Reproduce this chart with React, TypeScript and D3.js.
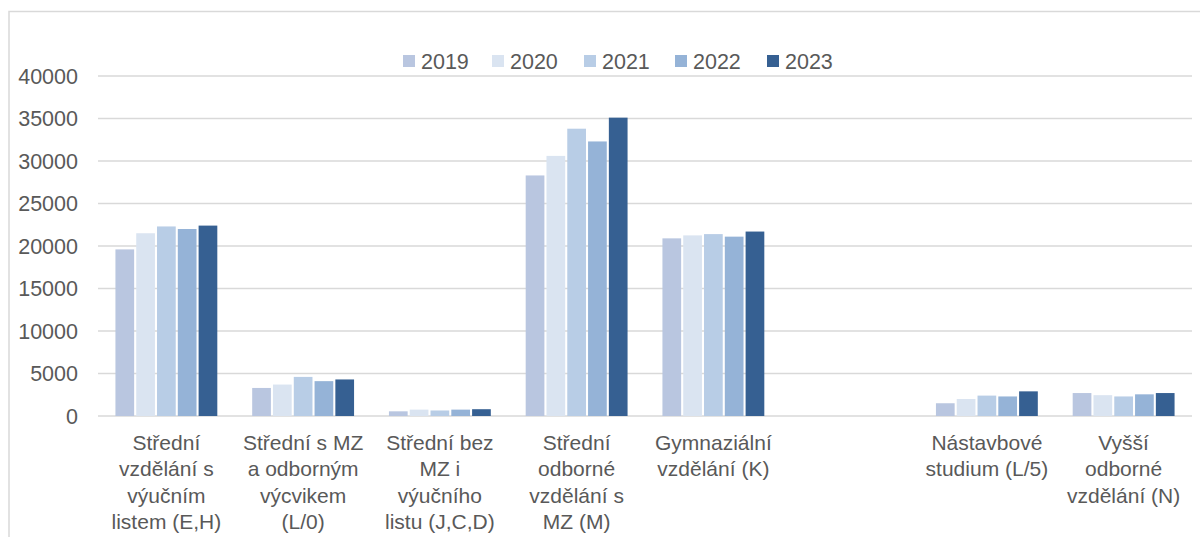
import React from "react";
import * as d3 from "d3";

const categories: string[][] = [
  ["Střední", "vzdělání s", "výučním", "listem (E,H)"],
  ["Střední s MZ", "a odborným", "výcvikem", "(L/0)"],
  ["Střední bez", "MZ i", "výučního", "listu (J,C,D)"],
  ["Střední", "odborné", "vzdělání s", "MZ (M)"],
  ["Gymnaziální", "vzdělání (K)"],
  [],
  ["Nástavbové", "studium (L/5)"],
  ["Vyšší", "odborné", "vzdělání (N)"],
];

const years = ["2019", "2020", "2021", "2022", "2023"];

const v2019 = [19600, 3300, 550, 28300, 20900, null, 1500, 2700];
const v2020 = [21500, 3700, 750, 30600, 21250, null, 2000, 2450];
const v2021 = [22300, 4600, 650, 33800, 21400, null, 2400, 2300];
const v2022 = [22000, 4100, 750, 32300, 21100, null, 2300, 2550];
const v2023 = [22400, 4300, 800, 35100, 21700, null, 2900, 2700];

const seriesValues: (number | null)[][] = [v2019, v2020, v2021, v2022, v2023];
const colors = ["#B9C6E0", "#DAE4F1", "#B8CDE6", "#95B3D7", "#366092"];

const yTicks = [0, 5000, 10000, 15000, 20000, 25000, 30000, 35000, 40000];

const W = 1200;
const H = 537;
const left = 98;
const right = 1192;
const top = 76;
const bottom = 416;
const font = "Liberation Sans, Arial, sans-serif";
const textColor = "#595959";
const gridColor = "#D9D9D9";

export default function App() {
  const x = d3
    .scaleBand<number>()
    .domain(categories.map((_, i) => i))
    .range([left, right])
    .padding(0);
  const groupW = x.bandwidth() * 0.745;
  const inner = d3
    .scaleBand<number>()
    .domain(years.map((_, i) => i))
    .range([-groupW / 2, groupW / 2])
    .paddingInner(0.1)
    .paddingOuter(0);
  const y = d3.scaleLinear().domain([0, 40000]).range([bottom, top]);

  const legendX = [403, 492, 584, 675, 767];

  return (
    <svg
      width={W}
      height={H}
      style={{ position: "absolute", left: 0, top: 0, background: "#fff" }}
      fontFamily={font}
    >
      <rect x={0} y={0} width={W} height={H} fill="#fff" />
      <rect
        x={9}
        y={11.5}
        width={1400}
        height={700}
        fill="none"
        stroke={gridColor}
        strokeWidth={1.5}
      />
      {yTicks.map((t) => (
        <g key={t}>
          <line
            x1={left}
            x2={right}
            y1={y(t)}
            y2={y(t)}
            stroke={gridColor}
            strokeWidth={1.5}
          />
          <text
            x={78}
            y={y(t)}
            dy="0.36em"
            textAnchor="end"
            fontSize={21.5}
            fill={textColor}
          >
            {t}
          </text>
        </g>
      ))}
      {seriesValues.map((vals, s) =>
        vals.map((v, c) =>
          v == null ? null : (
            <rect
              key={`${s}-${c}`}
              x={(x(c) as number) + x.bandwidth() / 2 + (inner(s) as number)}
              y={y(v)}
              width={inner.bandwidth()}
              height={bottom - y(v)}
              fill={colors[s]}
            />
          )
        )
      )}
      {categories.map((lines, c) => (
        <text
          key={c}
          x={(x(c) as number) + x.bandwidth() / 2}
          y={450}
          textAnchor="middle"
          fontSize={21}
          fill={textColor}
        >
          {lines.map((l, i) => (
            <tspan key={i} x={(x(c) as number) + x.bandwidth() / 2} dy={i === 0 ? 0 : 26.3}>
              {l}
            </tspan>
          ))}
        </text>
      ))}
      {years.map((yr, i) => (
        <g key={yr}>
          <rect x={legendX[i]} y={55} width={12} height={12} fill={colors[i]} />
          <text x={legendX[i] + 18} y={68.5} fontSize={21.5} fill={textColor}>
            {yr}
          </text>
        </g>
      ))}
    </svg>
  );
}
